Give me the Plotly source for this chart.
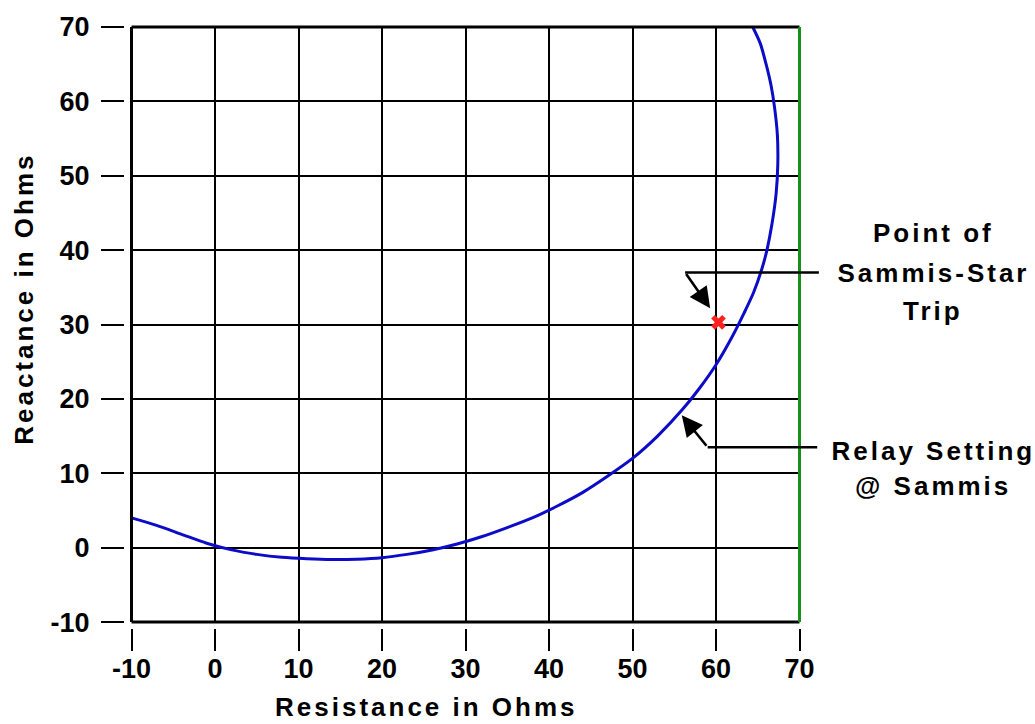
import plotly.graph_objects as go

# Relay characteristic (mho circle)
resistance = [-10, -7, -4, -1, 2, 5, 8, 11, 14, 17, 20, 23, 26, 29, 32, 35, 38, 41, 44, 47,
              50, 53, 56, 58, 60, 62, 63.3, 64.5, 65.5, 66.1, 66.7, 67.2, 67.4, 67.35,
              67.0, 66.6, 66.0, 65.3, 64.4]
reactance = [4.0, 3.0, 1.8, 0.6, -0.3, -0.9, -1.3, -1.5, -1.6, -1.55, -1.35, -0.9, -0.3, 0.5,
             1.5, 2.7, 4.0, 5.6, 7.4, 9.6, 12.0, 15.0, 18.6, 21.4, 24.6, 28.5, 31.4, 34.3,
             37.5, 40.0, 43.5, 47.6, 51.5, 55.5, 59.3, 62.1, 65.0, 67.8, 70]

# Point of Sammis-Star trip
trip_r = [60.3]
trip_x = [30.3]

x_ticks = [-10, 0, 10, 20, 30, 40, 50, 60, 70]
y_ticks = [-10, 0, 10, 20, 30, 40, 50, 60, 70]
tick_text = ["-10", "0", "10", "20", "30", "40", "50", "60", "70"]

W, H = 1035, 724
ML, MR, MT, MB = 124, 235, 21, 96
PW, PH = W - ML - MR, H - MT - MB

def px(xpix):
    return (xpix - ML) / PW

def py(ypix):
    return (H - MB - ypix) / PH

FONT = "Liberation Sans, Arial, sans-serif"

fig = go.Figure()
fig.add_trace(go.Scatter(x=resistance, y=reactance, mode="lines",
                         line=dict(color="#0c0cc8", width=3, shape="spline", smoothing=0.8),
                         hoverinfo="skip", showlegend=False))
fig.add_trace(go.Scatter(x=trip_r, y=trip_x, mode="markers",
                         marker=dict(symbol="x", size=13, color="#ff2020",
                                     line=dict(width=0)),
                         showlegend=False))

tickfont = dict(family=FONT, size=27, color="black", weight="bold")
fig.update_layout(
    width=W, height=H, autosize=False,
    margin=dict(l=ML, r=MR, t=MT, b=MB, pad=0),
    paper_bgcolor="white", plot_bgcolor="white",
    xaxis=dict(range=[-10, 70], domain=[7.5 / PW, (PW - 0.5) / PW],
               anchor="free", position=0,
               tickmode="array", tickvals=x_ticks, ticktext=tick_text,
               ticks="outside", ticklen=22, tickwidth=2, tickcolor="black",
               showgrid=True, gridcolor="black", gridwidth=2,
               zeroline=False, showline=False, tickfont=tickfont,
               ticklabelstandoff=-5),
    yaxis=dict(range=[-10, 70], domain=[6 / PH, 1],
               anchor="free", position=0,
               tickmode="array", tickvals=y_ticks, ticktext=tick_text,
               ticks="outside", ticklen=23, tickwidth=2, tickcolor="black",
               showgrid=True, gridcolor="black", gridwidth=2,
               zeroline=False, showline=False, tickfont=tickfont,
               ticklabelstandoff=6),
)

# Frame
frame = [((0, 0), (0, 1), "black"), ((0, 1), (1, 1), "black"),
         ((0, 0), (1, 0), "black"), ((1, 0), (1, 1), "#169016")]
for (x0, y0), (x1, y1), col in frame:
    fig.add_shape(type="line", xref="x domain", yref="y domain",
                  x0=x0, y0=y0, x1=x1, y1=y1, line=dict(color=col, width=3), layer="above")

# Axis titles
tfont = dict(family=FONT, size=26, color="black", weight="bold")
fig.add_annotation(text="Resistance in Ohms", xref="paper", yref="paper",
                   x=px(426), y=py(708), xanchor="center", yanchor="middle",
                   showarrow=False, font=tfont)
fig.add_annotation(text="Reactance in Ohms", xref="paper", yref="paper",
                   x=px(24), y=py(296), xanchor="center", yanchor="middle",
                   textangle=-90, showarrow=False, font=tfont)

# Side labels
labels = [("Point of", 229), ("Sammis-Star", 269.5), ("Trip", 308),
          ("Relay Setting", 449.5), ("@ Sammis", 485)]
for txt, ypix in labels:
    fig.add_annotation(text=txt, xref="paper", yref="paper", x=px(933), y=py(ypix),
                       xanchor="center", yanchor="middle", showarrow=False, font=tfont)

# Leader lines and arrows
def leader(x_head, y_head, x_tail, y_tail, head):
    fig.add_annotation(text="", x=x_head, y=y_head, ax=x_tail, ay=y_tail,
                       xref="x", yref="y", axref="x", ayref="y",
                       showarrow=True, arrowhead=2, arrowsize=1.6, arrowwidth=2.6,
                       arrowcolor="black", arrowside="end" if head else "none",
                       standoff=0, startstandoff=0, font=dict(size=1))

leader(56.3, 37.0, 72.5, 37.0, False)
leader(59.3, 32.2, 56.3, 37.0, True)
leader(59.0, 13.5, 72.3, 13.5, False)
leader(55.9, 17.8, 59.0, 13.5, True)

post = ("var s=document.createElement('style');"
        "s.textContent='.annotation-text{letter-spacing:3px;}';"
        "document.head.appendChild(s);")
fig.write_html("out.html", post_script=post)
